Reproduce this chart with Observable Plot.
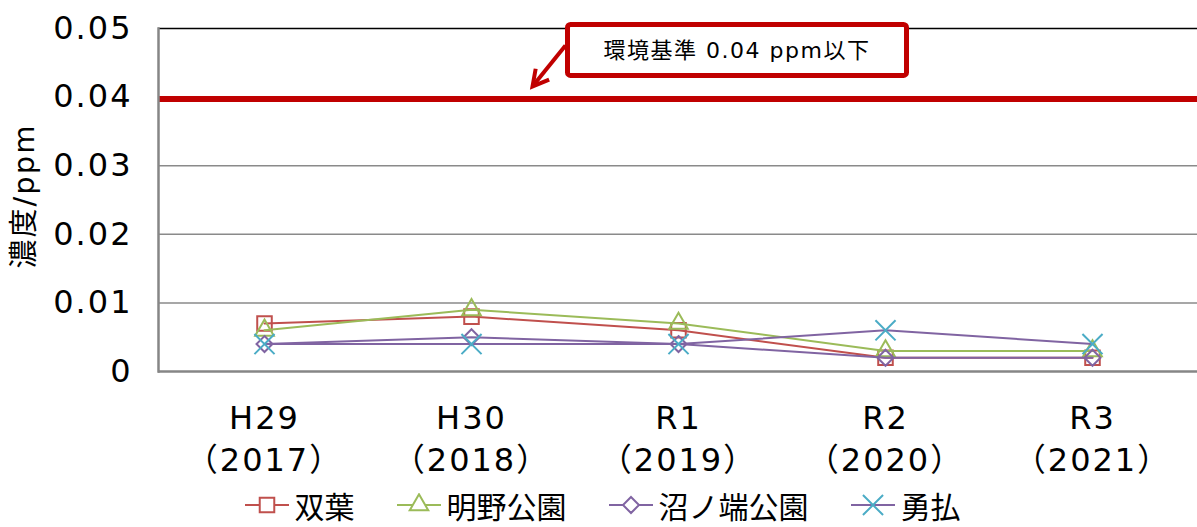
<!DOCTYPE html>
<html>
<head>
<meta charset="utf-8">
<script src="https://cdn.jsdelivr.net/npm/d3@7"></script>
<script src="https://cdn.jsdelivr.net/npm/@observablehq/plot@0.6"></script>
<style>
  html, body { margin: 0; padding: 0; background: #fff; }
  #wrap { position: relative; width: 1197px; height: 527px; font-family: "Noto Sans CJK JP", "Noto Sans", sans-serif; }
  #chart text { letter-spacing: 2px; }
  #chart text.anno { letter-spacing: 1.5px; }
  #legend { position: absolute; left: 0; top: 489px; width: 1197px; height: 32px; display: flex; justify-content: center; align-items: center; gap: 42px; font-size: 30px; color: #000; padding-left: 8px; box-sizing: border-box; }
  .item { display: flex; align-items: center; height: 32px; }
  .item span { line-height: 32px; display: block; }
  .item svg { margin-right: 6px; display: block; }
</style>
</head>
<body>
<div id="wrap"><div id="chart"></div><div id="legend"></div></div>
<script>
const years = ["H29", "H30", "R1", "R2", "R3"];
const yearLabels = ["（2017）", "（2018）", "（2019）", "（2020）", "（2021）"];
const seriesNames = ["双葉", "明野公園", "沼ノ端公園", "勇払"];
const futaba     = [0.007, 0.008, 0.006, 0.002, 0.002];
const akeno      = [0.006, 0.009, 0.007, 0.003, 0.003];
const numanohata = [0.004, 0.005, 0.004, 0.002, 0.002];
const yufutsu    = [0.004, 0.004, 0.004, 0.006, 0.004];
const yTicks = [0, 0.01, 0.02, 0.03, 0.04, 0.05];
const gridTicks = [0.01, 0.02, 0.03];
const standardValue = 0.04;
const annotationText = "環境基準 0.04 ppm以下";
const yAxisLabel = "濃度/ppm";

const seriesValues = [futaba, akeno, numanohata, yufutsu];
const lineColors = ["#C0504D", "#9BBB59", "#8064A2", "#8064A2"];
const markerColors = ["#C0504D", "#9BBB59", "#8064A2", "#4BACC6"];
const symbols = ["square", "triangle", "diamond2", "times"];
const symbolR = [8.2, 6.9, 7.2, 9.2];
const latinFont = '"DejaVu Sans", "Noto Sans CJK JP", sans-serif';

const rows = [];
seriesNames.forEach((s, i) => seriesValues[i].forEach((v, j) => rows.push({series: s, year: years[j], value: v})));

const lineMarks = [];
seriesNames.forEach((s, i) => {
  const data = rows.filter(d => d.series === s);
  lineMarks.push(Plot.line(data, {x: "year", y: "value", stroke: lineColors[i], strokeWidth: 2}));
  lineMarks.push(Plot.dot(data, {x: "year", y: "value", symbol: () => symbols[i], r: symbolR[i], stroke: markerColors[i], strokeWidth: 2, fill: "none"}));
});

function annotation(index, scales, values, dimensions) {
  const cx = scales.x("R1") + 59;
  const cy = scales.y(0.0468);
  const w = 339, h = 51;
  const g = d3.create("svg:g");
  const left = cx - w / 2, top = cy - h / 2;
  const sx = left - 2, sy = top + 21;
  const ex = sx - 33, ey = sy + 41;
  const ang = Math.atan2(ey - sy, ex - sx);
  const hl = 18, hw = 0.5;
  g.append("line").attr("x1", sx).attr("y1", sy).attr("x2", ex - Math.cos(ang) * 4).attr("y2", ey - Math.sin(ang) * 4)
    .attr("stroke", "#C00000").attr("stroke-width", 4);
  g.append("path")
    .attr("d", `M${ex + Math.cos(ang + Math.PI - hw) * hl},${ey + Math.sin(ang + Math.PI - hw) * hl}L${ex},${ey}L${ex + Math.cos(ang + Math.PI + hw) * hl},${ey + Math.sin(ang + Math.PI + hw) * hl}`)
    .attr("fill", "none").attr("stroke", "#C00000").attr("stroke-width", 4).attr("stroke-linejoin", "miter");
  g.append("rect").attr("x", left).attr("y", top).attr("width", w).attr("height", h).attr("rx", 3)
    .attr("fill", "#fff").attr("stroke", "#C00000").attr("stroke-width", 5);
  g.append("text").attr("class", "anno").attr("x", cx).attr("y", cy).attr("text-anchor", "middle").attr("dy", "0.36em")
    .attr("font-size", 22).attr("fill", "#000").attr("font-family", latinFont).text(annotationText);
  return g.node();
}

const chart = Plot.plot({
  width: 1197,
  height: 488,
  marginLeft: 158,
  marginRight: 0,
  marginTop: 28,
  marginBottom: 117,
  style: {fontFamily: latinFont, background: "#fff", color: "#000", overflow: "visible"},
  x: {type: "point", domain: years, padding: 0.5},
  y: {domain: [0, 0.05]},
  marks: [
    Plot.gridY(gridTicks, {stroke: "#8A8A8A", strokeOpacity: 1, strokeWidth: 1.5}),
    Plot.ruleY([0.05], {stroke: "#000", strokeWidth: 1.5}),
    Plot.axisY(yTicks, {tickSize: 0, tickPadding: 26, fontSize: 32, fontFamily: latinFont, label: null,
      tickFormat: d => d === 0 ? "0" : d.toFixed(2)}),
    Plot.axisX(years, {tickSize: 0, tickPadding: 28, fontSize: 32, lineHeight: 1.3, fontFamily: latinFont, label: null,
      tickFormat: d => d + "\n" + yearLabels[years.indexOf(d)]}),
    Plot.text([yAxisLabel], {frameAnchor: "left", textAnchor: "middle", dx: -134, dy: -4, rotate: -90, fontSize: 29, fontFamily: latinFont, fill: "#000"}),
    Plot.ruleY([standardValue], {stroke: "#C00000", strokeWidth: 6, dy: 2}),
    ...lineMarks,
    Plot.ruleY([0], {stroke: "#868686", strokeWidth: 2.5}),
    Plot.frame({anchor: "left", stroke: "#868686", strokeWidth: 2.5}),
    annotation
  ]
});
document.getElementById("chart").appendChild(chart);

const legend = d3.select("#legend");
const symMap = {square: d3.symbolSquare, triangle: d3.symbolTriangle, diamond2: d3.symbolDiamond2, times: d3.symbolTimes};
seriesNames.forEach((s, i) => {
  const item = legend.append("div").attr("class", "item");
  const svg = item.append("svg").attr("width", 44).attr("height", 24);
  svg.append("line").attr("x1", 0).attr("x2", 44).attr("y1", 12).attr("y2", 12).attr("stroke", lineColors[i]).attr("stroke-width", 2);
  svg.append("path").attr("transform", "translate(22,12)")
    .attr("d", d3.symbol(symMap[symbols[i]], symbolR[i] * symbolR[i] * Math.PI)())
    .attr("fill", symbols[i] === "times" ? "none" : "#fff").attr("stroke", markerColors[i]).attr("stroke-width", 2);
  item.append("span").text(s);
});
</script>
</body>
</html>
